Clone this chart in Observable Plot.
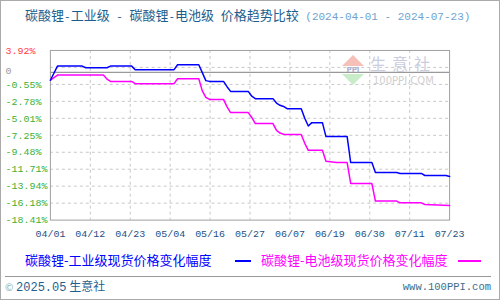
<!DOCTYPE html>
<html><head><meta charset="utf-8">
<script src="https://cdn.jsdelivr.net/npm/d3@7"></script>
<script src="https://cdn.jsdelivr.net/npm/@observablehq/plot@0.6"></script>
<style>
html,body{margin:0;padding:0;background:#fff;}
#wrap{position:relative;width:500px;height:300px;box-sizing:border-box;border:1px solid #aaa;overflow:hidden;font-family:"Noto Sans CJK SC",sans-serif;}
#title{position:absolute;left:24px;top:4px;font-size:13px;line-height:20px;color:#1b5e8e;white-space:pre;}
#title .m{font-family:"Liberation Mono",monospace;font-size:11px;}
#title .d{font-family:"Liberation Mono",monospace;font-size:11px;color:#6fa3cf;}
#chart{position:absolute;left:-1px;top:29px;}
.wm{position:absolute;color:#c9cde0;white-space:nowrap;}
.leg{position:absolute;top:250px;font-size:13px;line-height:18px;white-space:nowrap;}
.legline{position:absolute;top:259px;height:1.5px;}
#fline{position:absolute;left:4px;top:275px;width:486px;height:1px;background:#999;}
#fl{position:absolute;left:4px;top:276px;font-size:12px;line-height:18px;color:#1f5f8f;}
#fl .c{color:#8aa;font-size:10px;}
#fr{position:absolute;right:8px;top:277px;font-family:"Liberation Mono",monospace;font-size:10.5px;line-height:18px;color:#3d6d8d;}
</style></head>
<body>
<div id="wrap">
  <div id="title">碳酸锂<span class="m">-</span>工业级<span class="m"> - </span>碳酸锂<span class="m">-</span>电池级<span class="m"> </span>价格趋势比较<span class="d"> (2024-04-01 - 2024-07-23)</span></div>
  <div id="chart"></div>
  <div class="wm" style="left:341px;top:54px;width:0;height:0;border-left:11px solid transparent;border-right:11px solid transparent;border-bottom:11px solid #f4c0b8;"></div>
  <div class="wm" style="left:343px;top:65px;width:18px;font:bold 7px 'DejaVu Sans';line-height:8px;color:#aab0d0;text-align:center;">PPI</div>
  <div class="wm" style="left:341px;top:73px;width:0;height:0;border-left:11px solid transparent;border-right:11px solid transparent;border-top:11px solid #c8ecc8;"></div>
  <div class="wm" style="left:369px;top:54px;font-size:16px;letter-spacing:6px;line-height:17px;height:17px;">生意社</div>
  <div class="wm" style="left:372px;top:74px;font-family:'DejaVu Sans';font-size:10px;line-height:11px;color:#cfcfcf;">100PPI.COM</div>
  <div class="leg" style="left:24px;color:#0000ff;">碳酸锂-工业级现货价格变化幅度</div>
  <div class="legline" style="left:234px;width:16px;background:#0000ff;"></div>
  <div class="leg" style="left:260px;color:#ff00ff;">碳酸锂-电池级现货价格变化幅度</div>
  <div class="legline" style="left:457px;width:23px;background:#ff00ff;"></div>
  <div id="fline"></div>
  <div id="fl"><span class="c">©</span> <span style="font-family:'Liberation Mono',monospace;font-size:12px;">2025.05</span> 生意社</div>
  <div id="fr">www.100PPI.com</div>
</div>
<script>
// ---- data ----
const industrialDates = ["2024-04-01","2024-04-03","2024-04-10","2024-04-11","2024-04-17","2024-04-18","2024-04-24","2024-04-25","2024-05-06","2024-05-07","2024-05-13","2024-05-14","2024-05-15","2024-05-16","2024-05-20","2024-05-21","2024-05-22","2024-05-27","2024-05-28","2024-05-29","2024-06-03","2024-06-04","2024-06-05","2024-06-06","2024-06-07","2024-06-11","2024-06-12","2024-06-13","2024-06-14","2024-06-17","2024-06-18","2024-06-24","2024-06-25","2024-07-01","2024-07-02","2024-07-08","2024-07-09","2024-07-15","2024-07-16","2024-07-22","2024-07-23"];
const industrialValues = [0,1.86,1.86,1.65,1.65,1.86,1.86,1.39,1.39,2.04,2.04,1.0,-0.05,-0.15,-0.15,-0.85,-1.47,-1.47,-2.1,-2.42,-2.42,-3.0,-3.3,-3.45,-3.74,-3.74,-5.0,-6.02,-5.58,-5.58,-7.42,-7.42,-10.83,-10.83,-12.14,-12.14,-12.27,-12.27,-12.54,-12.54,-12.67];
const batteryDates = ["2024-04-01","2024-04-03","2024-04-16","2024-04-17","2024-04-18","2024-04-24","2024-04-25","2024-05-06","2024-05-07","2024-05-13","2024-05-14","2024-05-15","2024-05-16","2024-05-20","2024-05-21","2024-05-22","2024-05-27","2024-05-28","2024-05-29","2024-06-03","2024-06-04","2024-06-05","2024-06-06","2024-06-07","2024-06-11","2024-06-12","2024-06-13","2024-06-17","2024-06-18","2024-06-21","2024-06-24","2024-06-25","2024-07-01","2024-07-02","2024-07-08","2024-07-09","2024-07-15","2024-07-16","2024-07-23"];
const batteryValues = [0,0.68,0.68,0.15,-0.15,-0.15,-0.45,-0.45,0.20,0.20,-1.4,-2.25,-2.52,-2.52,-3.5,-4.26,-4.26,-4.9,-5.71,-5.71,-6.6,-6.95,-7.1,-7.15,-7.15,-8.3,-9.22,-9.22,-10.66,-10.83,-10.83,-13.59,-13.59,-15.91,-15.91,-16.14,-16.14,-16.35,-16.48];
const xTickLabels = ["04/01","04/12","04/23","05/04","05/16","05/27","06/07","06/19","06/30","07/11","07/23"];
const yTickValues = [3.92,1.69,-0.55,-2.78,-5.01,-7.25,-9.48,-11.71,-13.94,-16.18,-18.41];
const yTickLabels = ["3.92%","","-0.55%","-2.78%","-5.01%","-7.25%","-9.48%","-11.71%","-13.94%","-16.18%","-18.41%"];
const zeroLineValue = 1.03; // where the reference draws its grey "0" line
const dateRange = ["2024-04-01","2024-07-23"];

// ---- build ----
const parse = s => new Date(s + "T00:00:00Z");
const start = parse(dateRange[0]), end = parse(dateRange[1]);
const industrial = industrialDates.map((d,i) => ({date: parse(d), v: industrialValues[i]}));
const battery = batteryDates.map((d,i) => ({date: parse(d), v: batteryValues[i]}));
const xTicks = xTickLabels.map((l,i) => new Date(+start + i*(end-start)/(xTickLabels.length-1)));
const yRows = yTickValues.map((v,i) => ({v, label: yTickLabels[i]})).filter(r => r.label);

const chart = Plot.plot({
  width: 500, height: 215,
  marginLeft: 50, marginRight: 50, marginTop: 20, marginBottom: 25,
  x: {type: "utc", domain: [start, end], axis: null},
  y: {domain: [yTickValues[yTickValues.length-1], yTickValues[0]], axis: null},
  style: {background: "transparent"},
  marks: [
    Plot.ruleY(yTickValues.slice(1, -1), {stroke: "#c8c8c8", strokeDasharray: "3,3"}),
    Plot.ruleX(xTicks.slice(1, -1), {stroke: "#c8c8c8", strokeDasharray: "3,3"}),
    Plot.ruleY([zeroLineValue], {stroke: "#999", strokeWidth: 1.2}),
    Plot.frame({stroke: "#a0a0a0"}),
    Plot.line(battery, {x: "date", y: "v", stroke: "#ff00ff", strokeWidth: 1.5}),
    Plot.line(industrial, {x: "date", y: "v", stroke: "#0000ff", strokeWidth: 1.5}),
    Plot.text(xTicks, {x: d => d, text: (d,i) => xTickLabels[i], frameAnchor: "bottom", dy: 17,
      fill: "#1f4f7f", fontFamily: "Liberation Mono", fontSize: 10}),
    Plot.text(yRows, {y: "v", text: "label", frameAnchor: "left", dx: -45, textAnchor: "start",
      fill: d => d.v > 0 ? "#ff3b3b" : "#3cb034", fontFamily: "Liberation Mono", fontSize: 10}),
    Plot.text([zeroLineValue], {y: d => d, text: () => "0", frameAnchor: "left", dx: -45, dy: -2, textAnchor: "start",
      fill: "#999", fontFamily: "Liberation Mono", fontSize: 10})
  ]
});
document.getElementById("chart").appendChild(chart);
</script>
</body></html>
